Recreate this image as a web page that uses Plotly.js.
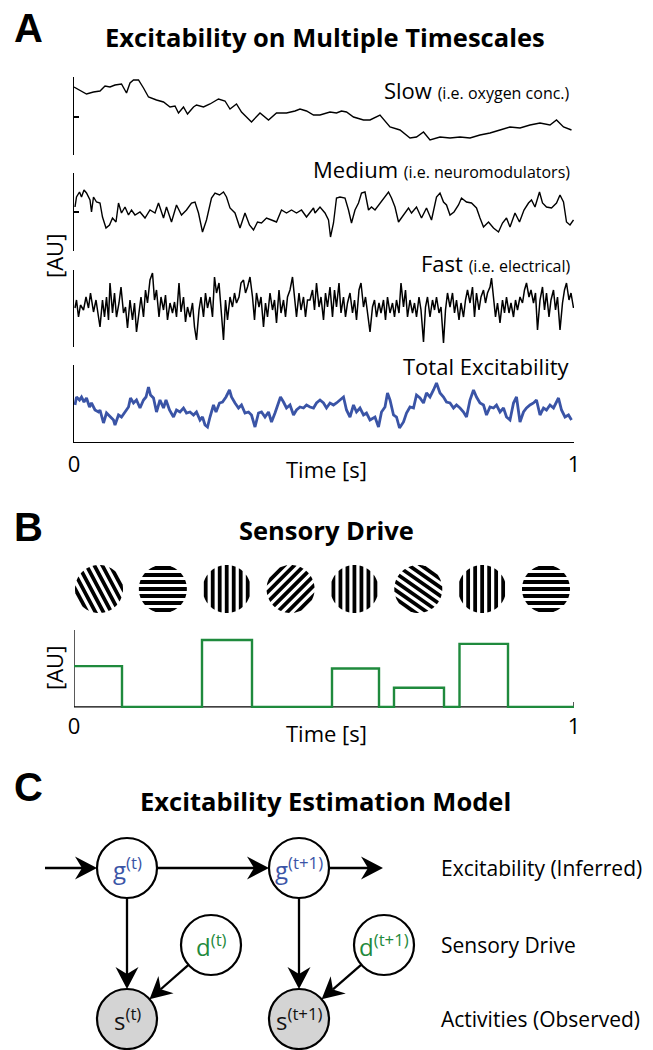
<!DOCTYPE html>
<html>
<head>
<meta charset="utf-8">
<script src="https://cdn.plot.ly/plotly-3.0.1.min.js"></script>
<style>html,body{margin:0;padding:0;background:#fff}#chart{width:653px;height:1050px}</style>
</head>
<body>
<div id="chart"></div>
<script>
// ===== DATA (time in ms, values in arbitrary units) =====
const slowT = [0,12,25,39,52,62,72,82,95,105,112,119,129,139,149,165,179,192,202,209,219,227,239,245,259,272,289,302,312,325,335,355,372,389,405,425,442,452,465,479,492,512,525,535,545,559,579,592,605,612,632,652,672,685,699,712,732,752,772,792,812,832,852,872,892,912,932,952,965,979,995];
const slowV = [68,65,61,63,64,69,68,70,71,62,72,75,75,67,58,55,53,48,49,42,48,41,48,50,48,51,56,54,46,51,43,33,42,35,42,42,44,46,44,40,40,43,42,44,43,38,35,35,38,40,28,25,17,18,23,15,18,17,18,17,20,22,25,28,27,30,32,30,35,28,25];

const medT = [2,5,11,15,20,25,32,35,39,45,52,57,64,71,77,84,89,95,102,109,115,122,132,142,152,162,169,179,185,195,205,215,225,235,242,249,257,265,275,282,291,299,305,312,322,332,342,351,359,367,375,385,395,405,415,425,435,445,455,465,479,482,492,502,509,513,519,525,532,542,549,555,562,569,575,582,589,595,602,612,622,629,635,642,649,659,669,675,685,695,705,715,725,732,739,745,752,760,769,775,785,795,805,812,819,829,839,849,857,865,872,882,891,900,909,915,922,931,937,945,955,965,972,979,985,992,999];
const medV = [44,54,59,54,61,58,51,39,54,49,48,34,23,26,33,29,48,38,44,36,41,36,39,33,41,38,48,33,44,29,46,36,41,48,49,38,19,31,53,58,56,59,54,43,38,23,38,26,21,29,28,33,31,29,41,38,41,38,41,34,43,38,44,38,31,14,28,53,54,53,41,28,41,48,58,59,41,44,41,48,54,59,53,44,29,36,43,38,44,33,43,31,54,58,49,46,36,39,46,53,49,48,43,33,24,29,23,19,28,33,24,38,29,41,48,51,44,59,48,44,43,48,56,49,29,26,31];

const fastT = [2,5,9,13,19,24,29,33,39,44,49,52,57,61,65,69,72,77,81,85,90,94,99,103,107,112,117,121,125,130,134,139,143,147,152,157,161,165,170,174,179,183,187,192,197,201,205,210,214,219,223,227,232,237,241,245,250,254,259,263,267,272,277,281,285,290,294,299,303,307,312,317,321,325,330,334,339,343,347,352,357,361,365,370,374,379,383,387,392,397,401,405,410,414,419,423,427,432,437,441,445,450,454,459,463,467,
 472,477,481,485,490,494,499,503,507,512,517,521,525,530,534,539,543,547,552,557,561,565,570,574,579,583,587,592,597,601,605,610,614,619,623,627,632,637,641,645,650,654,659,663,667,672,677,681,685,690,694,699,703,707,712,717,721,725,730,734,739,743,747,752,757,761,765,770,774,779,783,787,792,797,801,805,810,814,819,823,827,832,835,839,843,847,852,857,861,865,870,874,879,883,887,892,897,901,905,910,914,919,923,927,932,937,941,945,950,954,959,963,967,972,977,981,985,990,994,999];
const fastV = [39,47,30,42,37,50,39,54,35,47,30,20,47,30,50,27,64,34,54,30,44,60,34,40,19,47,27,44,15,37,50,30,57,44,67,74,47,57,30,50,37,52,27,44,34,45,30,64,35,50,25,40,30,44,20,7,37,50,30,54,39,50,30,70,54,64,34,7,47,27,50,40,54,44,50,64,67,54,60,70,50,27,54,40,50,20,44,30,54,37,47,24,57,34,47,30,50,57,70,47,30,54,37,50,30,47,
 47,57,37,64,40,50,27,54,40,60,30,57,40,64,34,50,30,44,54,34,47,27,57,64,40,50,34,15,40,47,30,44,34,47,27,50,34,44,30,47,34,64,40,57,30,47,34,44,30,50,37,5,40,50,30,47,37,50,34,40,4,37,54,40,54,34,47,27,44,30,47,57,44,60,30,54,37,50,57,44,54,60,69,50,30,44,24,47,34,50,34,44,30,47,37,50,44,57,64,50,57,44,54,17,47,60,37,54,30,47,57,37,50,17,44,57,64,47,54,39];

const totalT = [2,5,11,15,20,25,31,35,42,49,52,59,65,72,79,82,89,95,102,109,113,119,125,132,139,144,149,153,159,165,172,179,184,191,199,205,212,219,225,232,239,245,252,257,262,267,272,279,284,291,297,304,311,315,322,329,335,342,349,355,362,369,375,382,389,395,402,409,413,419,425,432,439,445,452,459,465,472,479,485,492,499,505,512,519,525,532,539,545,552,559,565,572,579,585,592,602,609,615,622,627,632,639,645,651,659,665,672,679,685,692,699,705,712,719,725,732,739,745,752,759,765,772,779,785,792,799,805,812,819,825,832,839,845,852,859,865,872,879,885,892,899,905,912,919,925,932,939,945,952,959,969,975,982,989,995];
const totalV = [37,45,42,45,40,44,35,39,32,30,32,19,29,25,22,17,27,25,30,35,44,39,42,34,42,45,55,47,44,30,42,34,42,32,25,32,30,34,29,30,27,30,22,25,17,15,25,37,30,39,40,45,52,45,39,34,37,29,30,27,15,29,30,25,30,20,29,40,45,40,34,37,27,32,35,34,37,35,34,39,42,39,34,39,37,39,42,45,32,25,37,30,34,27,29,22,25,15,30,35,49,42,27,25,14,20,29,35,34,47,44,39,49,45,52,59,49,45,40,39,34,37,34,30,25,42,52,45,39,37,27,35,34,37,30,34,25,22,39,45,20,30,34,37,39,42,27,34,32,37,34,44,32,25,27,22];

// Panel B: sensory drive (step function)
const driveT = [0,96,256,356,516,610,640,740,771,868,1000];
const driveV = [0.53,0,0.87,0,0.50,0,0.25,0,0.82,0,0];
// grating orientations (degrees, counter-clockwise from horizontal)
const gratingOrient = [-62,0,90,45,90,-35,90,0];

// Panel A labels
const seriesNames = ['Slow','Medium','Fast','Total Excitability'];
const seriesNotes = ['(i.e. oxygen conc.)','(i.e. neuromodulators)','(i.e. electrical)',''];
const tickText = ['0','1'];

// Panel C labels
const nodeLabels = ['g<sup>(t)</sup>','g<sup>(t+1)</sup>','d<sup>(t)</sup>','d<sup>(t+1)</sup>','s<sup>(t)</sup>','s<sup>(t+1)</sup>'];
const rowLabels = ['Excitability (Inferred)','Sensory Drive','Activities (Observed)'];

// ===== LAYOUT HELPERS =====
const W = 653, H = 1050;
const X = p => p / W;
const Y = p => 1 - p / H;
const FONT = 'Open Sans, sans-serif';
const BLUE = '#3a54a6';
const GREEN = '#1f8a3d';

const traces = [
  {x: slowT, y: slowV, xaxis: 'x', yaxis: 'y', mode: 'lines', line: {color: '#000', width: 1.4}, hoverinfo: 'skip'},
  {x: medT, y: medV, xaxis: 'x', yaxis: 'y2', mode: 'lines', line: {color: '#000', width: 1.4}, hoverinfo: 'skip'},
  {x: fastT, y: fastV, xaxis: 'x', yaxis: 'y3', mode: 'lines', line: {color: '#000', width: 1.5}, hoverinfo: 'skip'},
  {x: totalT, y: totalV, xaxis: 'x', yaxis: 'y4', mode: 'lines', line: {color: BLUE, width: 2.8}, hoverinfo: 'skip'},
  {x: driveT, y: driveV, xaxis: 'x2', yaxis: 'y5', mode: 'lines', line: {color: GREEN, width: 2.4, shape: 'hv'}, hoverinfo: 'skip'}
];

const yBase = {showgrid: false, zeroline: false, showline: true, linecolor: '#000', linewidth: 1.3,
  ticks: 'inside', ticklen: 5, tickwidth: 1.3, tickcolor: '#000', showticklabels: false, fixedrange: true, anchor: 'x'};

const layout = {
  width: W, height: H,
  margin: {l: 0, r: 0, t: 0, b: 0},
  paper_bgcolor: '#fff', plot_bgcolor: 'rgba(0,0,0,0)',
  showlegend: false,
  font: {family: FONT, color: '#000'},
  xaxis: {domain: [X(74), X(574)], range: [0, 1000], anchor: 'y4', showgrid: false, zeroline: false,
    showline: true, linecolor: '#000', linewidth: 1.3, ticks: 'inside', ticklen: 5, tickwidth: 1.3, tickcolor: '#000',
    tickvals: [0, 1000], ticktext: tickText, tickfont: {size: 22, family: FONT}, ticklabelstandoff: 2, fixedrange: true},
  yaxis: Object.assign({}, yBase, {domain: [Y(155), Y(77)], range: [0, 78], tickvals: [38]}),
  yaxis2: Object.assign({}, yBase, {domain: [Y(251), Y(173)], range: [0, 78], tickvals: [39]}),
  yaxis3: Object.assign({}, yBase, {domain: [Y(347), Y(270)], range: [0, 77], tickvals: []}),
  yaxis4: Object.assign({}, yBase, {domain: [Y(442), Y(365)], range: [0, 77], tickvals: []}),
  xaxis2: {domain: [X(74), X(574)], range: [0, 1000], anchor: 'y5', showgrid: false, zeroline: false, showline: false,
    ticks: '', tickvals: [0, 1000], ticktext: tickText, tickfont: {size: 22, family: FONT}, ticklabelstandoff: 1, fixedrange: true},
  yaxis5: {domain: [Y(710), Y(630)], range: [-0.04, 1.0], anchor: 'x2', showgrid: false, zeroline: false, showline: false,
    showticklabels: false, ticks: '', fixedrange: true},
  shapes: [],
  annotations: []
};

// Panel B axis lines
layout.shapes.push(
  {type: 'line', xref: 'x2', yref: 'y5', x0: 0, x1: 1000, y0: 0, y1: 0, line: {color: '#000', width: 1.3}, layer: 'below'},
  {type: 'line', xref: 'x2', yref: 'y5', x0: 0, x1: 0, y0: 0, y1: 1, line: {color: '#000', width: 1.3}, layer: 'below'},
  {type: 'line', xref: 'x2', yref: 'y5', x0: 1000, x1: 1000, y0: 0, y1: 0.065, line: {color: '#000', width: 1.3}, layer: 'below'}
);

// Gratings
function stripePath(cx, cy, r, orientDeg, d1, d2) {
  const th = -orientDeg * Math.PI / 180;
  const ux = Math.cos(th), uy = Math.sin(th);
  const nx = -uy, ny = ux;
  const cl = v => Math.max(-1, Math.min(1, v));
  const p1 = Math.asin(cl(d1 / r)), p2 = Math.asin(cl(d2 / r));
  const pts = [];
  const N = 10;
  for (let i = 0; i <= N; i++) { const ph = p1 + (p2 - p1) * i / N; pts.push([r * Math.cos(ph), r * Math.sin(ph)]); }
  for (let i = 0; i <= N; i++) { const ph = Math.PI - p2 + (p2 - p1) * i / N; pts.push([r * Math.cos(ph), r * Math.sin(ph)]); }
  return 'M' + pts.map(([a, b]) => {
    const px = cx + a * ux + b * nx, py = cy + a * uy + b * ny;
    return X(px).toFixed(5) + ',' + Y(py).toFixed(5);
  }).join('L') + 'Z';
}
const gR = 24, gPeriod = 7, gCY = 589;
gratingOrient.forEach((o, i) => {
  const cx = 99 + i * (546 - 99) / (gratingOrient.length - 1);
  for (let k = -3; k <= 3; k++) {
    const c = k * gPeriod;
    const d1 = Math.max(-gR, c - gPeriod * 0.27), d2 = Math.min(gR, c + gPeriod * 0.27);
    if (d2 <= d1) continue;
    layout.shapes.push({type: 'path', xref: 'paper', yref: 'paper', path: stripePath(cx, gCY, gR, o, d1, d2),
      fillcolor: '#000', line: {width: 0}});
  }
});

// Panel C arrows (drawn as line + stealth head shapes)
function P(x, y) { return X(x).toFixed(5) + ',' + Y(y).toFixed(5); }
function arrow(hx, hy, tx, ty) {
  const dx = hx - tx, dy = hy - ty, L = Math.hypot(dx, dy);
  const ux = dx / L, uy = dy / L, nx = -uy, ny = ux;
  const Lh = 22, w = 11.5, notch = 7;
  const bx = hx - ux * Lh, by = hy - uy * Lh;
  const mx = hx - ux * (Lh - notch), my = hy - uy * (Lh - notch);
  layout.shapes.push({type: 'line', xref: 'paper', yref: 'paper', x0: X(tx), y0: Y(ty), x1: X(mx), y1: Y(my),
    line: {color: '#000', width: 2.3}, layer: 'above'});
  layout.shapes.push({type: 'path', xref: 'paper', yref: 'paper', layer: 'above',
    path: 'M' + P(hx, hy) + 'L' + P(bx + nx * w, by + ny * w) + 'L' + P(mx, my) + 'L' + P(bx - nx * w, by - ny * w) + 'Z',
    fillcolor: '#000', line: {width: 0}});
}

// Panel C nodes
const R = 30;
const nodes = [
  {cx: 127, cy: 868, fill: '#fff', color: BLUE},
  {cx: 299, cy: 868, fill: '#fff', color: BLUE},
  {cx: 211, cy: 945, fill: '#fff', color: GREEN},
  {cx: 384, cy: 945, fill: '#fff', color: GREEN},
  {cx: 127, cy: 1019, fill: '#d4d4d4', color: '#111'},
  {cx: 299, cy: 1019, fill: '#d4d4d4', color: '#111'}
];
nodes.forEach((n, i) => {
  layout.shapes.push({type: 'circle', xref: 'paper', yref: 'paper',
    x0: X(n.cx - R), x1: X(n.cx + R), y0: Y(n.cy + R), y1: Y(n.cy - R),
    fillcolor: n.fill, line: {color: '#000', width: 2.2}, layer: 'above'});
  layout.annotations.push({xref: 'paper', yref: 'paper', x: X(n.cx), y: Y(n.cy), text: nodeLabels[i],
    showarrow: false, xanchor: 'center', yanchor: 'middle', font: {size: 24, color: n.color, family: FONT}});
});

function link(a, b) {
  const dx = b.cx - a.cx, dy = b.cy - a.cy, L = Math.hypot(dx, dy);
  const ux = dx / L, uy = dy / L;
  arrow(b.cx - ux * R, b.cy - uy * R, a.cx + ux * R, a.cy + uy * R);
}
arrow(nodes[0].cx - R, 868, 45, 868);
link(nodes[0], nodes[1]);
arrow(383, 868, nodes[1].cx + R, 868);
link(nodes[0], nodes[4]);
link(nodes[1], nodes[5]);
link(nodes[2], nodes[4]);
link(nodes[3], nodes[5]);

rowLabels.forEach((t, i) => {
  layout.annotations.push({xref: 'paper', yref: 'paper', x: X(439), y: Y([868, 945, 1019][i]), text: t,
    showarrow: false, xanchor: 'left', yanchor: 'middle', font: {size: 21, family: FONT}});
});

// Panel letters and titles
function txt(x, y, text, size, opts) {
  layout.annotations.push(Object.assign({xref: 'paper', yref: 'paper', x: X(x), y: Y(y), text: text,
    showarrow: false, xanchor: 'center', yanchor: 'middle', font: {size: size, family: FONT}}, opts || {}));
}
const LETTER = {family: 'Liberation Sans, Arial, sans-serif', size: 40, weight: 700};
const TITLE = {size: 25.5, family: FONT, weight: 700};
txt(28, 28, 'A', 40, {font: LETTER});
txt(28, 527, 'B', 40, {font: LETTER});
txt(28, 787, 'C', 40, {font: LETTER});
txt(325, 37, 'Excitability on Multiple Timescales', 25.5, {font: TITLE});
txt(326, 530, 'Sensory Drive', 25.5, {font: TITLE});
txt(325, 801, 'Excitability Estimation Model', 25.5, {font: TITLE});

// Series labels (right aligned)
const labelY = [90, 169, 263, 366];
seriesNames.forEach((n, i) => {
  const note = seriesNotes[i] ? ' <span style="font-size:16px">' + seriesNotes[i] + '</span>' : '';
  layout.annotations.push({xref: 'paper', yref: 'paper', x: X(572), y: Y(labelY[i]), text: n + note,
    showarrow: false, xanchor: 'right', yanchor: 'middle', font: {size: 22, family: FONT}});
});

// Axis titles
txt(327, 469, 'Time [s]', 22);
txt(327, 733, 'Time [s]', 22);
txt(54, 256, '[AU]', 22, {textangle: -90});
txt(54, 668, '[AU]', 22, {textangle: -90});

Plotly.newPlot('chart', traces, layout, {displayModeBar: false, staticPlot: true});
</script>
</body>
</html>
